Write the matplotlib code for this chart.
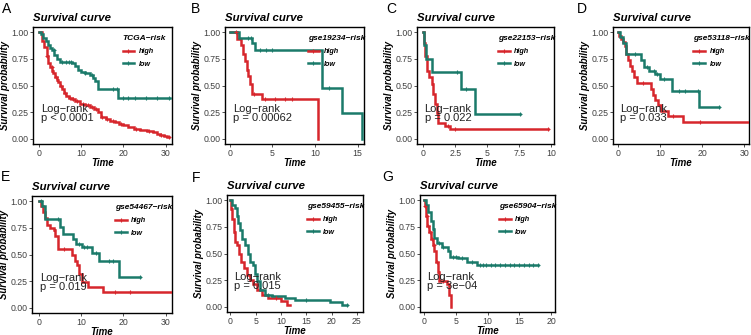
#!/usr/bin/env python3
# Kaplan-Meier survival curves for the risk model (TCGA + 6 GEO cohorts)

import matplotlib
matplotlib.use("Agg")
import matplotlib.pyplot as plt
from matplotlib.lines import Line2D
import numpy as np

plt.rcParams['font.family'] = ['Liberation Sans', 'DejaVu Sans']

RED = '#D7262C'
GREEN = '#1B7A6A'

# ---- data: step times, survival after each step, last follow-up, censor times ----
# A: TCGA
tcga_high_t = [0.8, 1.3, 1.8, 2.2, 2.7, 3.1, 3.4, 3.9, 4.3, 4.6, 5.0, 5.4, 6.0, 6.5, 7.0, 7.7, 8.5, 9.7,
               11.0, 12.0, 13.0, 14.0, 14.8, 15.8, 16.8, 18.0, 19.0, 20.0, 21.0, 22.5, 24.0, 25.5, 27.0,
               28.0, 28.6, 29.5, 30.2]
tcga_high_s = [0.92, 0.86, 0.78, 0.71, 0.67, 0.64, 0.62, 0.58, 0.55, 0.53, 0.50, 0.47, 0.43, 0.40, 0.385,
               0.37, 0.35, 0.33, 0.315, 0.30, 0.28, 0.25, 0.20, 0.185, 0.17, 0.155, 0.14, 0.125, 0.11,
               0.095, 0.08, 0.07, 0.06, 0.045, 0.035, 0.025, 0.015]
tcga_high_end = 30.8
tcga_high_cens = [2.0, 3.0, 4.0, 5.2, 6.2, 7.3, 8.0, 9.0, 10.5, 11.5, 12.5, 13.5, 15.0, 16.0, 17.5, 19.5,
                  23.0, 26.0, 29.0, 30.8]
tcga_low_t = [0.5, 1.0, 1.6, 2.2, 2.6, 3.0, 3.6, 4.2, 5.0, 7.7, 8.5, 9.3, 10.0, 11.0, 12.0, 12.8, 13.3,
              13.9, 18.8]
tcga_low_s = [0.98, 0.95, 0.92, 0.88, 0.85, 0.83, 0.79, 0.75, 0.72, 0.71, 0.68, 0.65, 0.63, 0.615, 0.60,
              0.57, 0.54, 0.47, 0.38]
tcga_low_end = 31.0
tcga_low_cens = [3.5, 5.5, 6.5, 7.0, 7.5, 11.0, 12.5, 17.6, 18.5, 20.0, 21.1, 22.7, 25.3, 27.9, 30.9]

# B: gse19234
g19234_high_t = [0.8, 1.3, 1.6, 1.8, 2.0, 2.2, 2.4, 2.6, 3.8, 10.3]
g19234_high_s = [0.94, 0.88, 0.80, 0.73, 0.65, 0.59, 0.51, 0.42, 0.37, 0.0]
g19234_high_end = 10.3
g19234_high_cens = [0.7, 2.9, 4.1, 5.3, 6.5, 7.3]
g19234_low_t = [1.1, 2.6, 3.0, 10.8, 13.2, 15.5]
g19234_low_s = [0.95, 0.90, 0.83, 0.48, 0.24, 0.0]
g19234_low_end = 15.5
g19234_low_cens = [2.2, 2.5, 3.6, 4.3, 4.9, 11.6]

# C: gse22153
g22153_high_t = [0.05, 0.12, 0.3, 0.47, 0.65, 0.78, 0.9, 1.04, 1.17, 1.7, 2.1]
g22153_high_s = [0.90, 0.78, 0.64, 0.58, 0.51, 0.42, 0.33, 0.24, 0.15, 0.12, 0.09]
g22153_high_end = 9.7
g22153_high_cens = [1.9, 2.5, 9.7]
g22153_low_t = [0.05, 0.2, 0.65, 2.9, 4.05]
g22153_low_s = [0.88, 0.75, 0.625, 0.47, 0.235]
g22153_low_end = 7.55
g22153_low_cens = [2.6, 3.3, 7.55]

# D: gse53118
g53118_high_t = [0.3, 0.7, 1.2, 1.7, 2.0, 2.4, 2.9, 3.3, 3.9, 4.5, 7.9, 8.4, 8.8, 9.6, 10.2, 12.0, 15.4]
g53118_high_s = [0.97, 0.94, 0.91, 0.87, 0.80, 0.74, 0.68, 0.64, 0.58, 0.52, 0.47, 0.41, 0.36, 0.32,
                 0.26, 0.21, 0.155]
g53118_high_end = 31.2
g53118_high_cens = [6.0, 13.0, 19.5]
g53118_low_t = [0.5, 1.3, 2.0, 5.5, 6.3, 7.5, 8.8, 10.0, 12.9, 19.2]
g53118_low_s = [0.96, 0.90, 0.80, 0.74, 0.67, 0.64, 0.61, 0.56, 0.45, 0.30]
g53118_low_end = 23.9
g53118_low_cens = [4.0, 7.0, 8.5, 9.3, 11.0, 14.5, 16.0, 19.0, 23.9]

# E: gse54467
g54467_high_t = [0.5, 1.1, 1.5, 1.9, 2.7, 3.5, 3.9, 4.6, 7.8, 8.6, 9.1, 9.6, 10.2, 11.7, 15.3]
g54467_high_s = [0.96, 0.90, 0.84, 0.78, 0.75, 0.73, 0.67, 0.55, 0.50, 0.44, 0.40, 0.32, 0.24, 0.19, 0.145]
g54467_high_end = 31.4
g54467_high_cens = [6.0, 18.0, 21.5]
g54467_low_t = [0.7, 1.5, 5.0, 5.8, 8.0, 8.8, 10.2, 12.5, 14.3, 19.0]
g54467_low_s = [0.96, 0.83, 0.76, 0.69, 0.65, 0.60, 0.57, 0.51, 0.44, 0.29]
g54467_low_end = 24.0
g54467_low_cens = [0.5, 4.5, 9.5, 10.8, 11.5, 13.5, 16.5, 17.5, 24.0]

# F: gse59455
g59455_high_t = [0.1, 0.4, 0.65, 0.9, 1.4, 1.8, 2.2, 2.8, 3.2, 3.9, 4.5, 5.2, 6.2, 7.5, 10.1, 11.1]
g59455_high_s = [0.92, 0.82, 0.70, 0.61, 0.58, 0.50, 0.42, 0.36, 0.30, 0.25, 0.21, 0.16, 0.11, 0.08,
                 0.05, 0.02]
g59455_high_end = 11.8
g59455_high_cens = [9.0]
g59455_low_t = [0.26, 0.9, 1.25, 1.6, 1.9, 2.4, 2.9, 3.4, 3.9, 4.5, 4.9, 5.2, 5.9, 6.8, 8.2, 10.8,
                12.8, 19.7, 22.0]
g59455_low_s = [0.96, 0.93, 0.85, 0.79, 0.72, 0.64, 0.58, 0.50, 0.42, 0.39, 0.31, 0.24, 0.16, 0.11,
                0.10, 0.08, 0.06, 0.04, 0.02]
g59455_low_end = 23.0
g59455_low_cens = [7.5, 15.0, 23.0]

# G: gse65904
g65904_high_t = [0.15, 0.3, 0.5, 0.85, 1.1, 1.35, 1.6, 1.9, 2.15, 2.4, 3.6, 4.0, 4.25]
g65904_high_s = [0.95, 0.85, 0.76, 0.70, 0.64, 0.58, 0.52, 0.42, 0.33, 0.24, 0.21, 0.11, 0.0]
g65904_high_end = 4.25
g65904_high_cens = [0.2, 0.4, 0.6, 0.9, 1.2, 1.5, 2.0, 3.0]
g65904_low_t = [0.3, 0.7, 1.05, 1.35, 1.6, 2.0, 2.8, 3.7, 4.1, 5.4, 6.7, 8.3]
g65904_low_s = [0.96, 0.89, 0.81, 0.73, 0.65, 0.60, 0.56, 0.52, 0.47, 0.46, 0.42, 0.39]
g65904_low_end = 18.0
g65904_low_cens = [2.3, 3.0, 4.5, 5.0, 6.0, 7.5, 8.8, 9.3, 9.8, 10.5, 11.2, 12.0, 12.8, 13.5, 14.2,
                   15.0, 15.8, 16.5, 17.2, 18.0]

# per panel: legend title, p-value text, x ticks
panel_letters = ['A', 'B', 'C', 'D', 'E', 'F', 'G']
legend_titles = ['TCGA\u2212risk', 'gse19234\u2212risk', 'gse22153\u2212risk', 'gse53118\u2212risk',
                 'gse54467\u2212risk', 'gse59455\u2212risk', 'gse65904\u2212risk']
pval_texts = ['p < 0.0001', 'p = 0.00062', 'p = 0.022', 'p = 0.033', 'p = 0.019', 'p = 0.015',
              'p = 3e\u221204']
xtick_values = [[0, 10, 20, 30], [0, 5, 10, 15], [0, 2.5, 5, 7.5, 10], [0, 10, 20, 30],
                [0, 10, 20, 30], [0, 5, 10, 15, 20, 25], [0, 5, 10, 15, 20]]
xtick_labels = [['0', '10', '20', '30'], ['0', '5', '10', '15'], ['0', '2.5', '5', '7.5', '10'],
                ['0', '10', '20', '30'], ['0', '10', '20', '30'], ['0', '5', '10', '15', '20', '25'],
                ['0', '5', '10', '15', '20']]

curves = [
    ((tcga_high_t, tcga_high_s, tcga_high_end, tcga_high_cens),
     (tcga_low_t, tcga_low_s, tcga_low_end, tcga_low_cens)),
    ((g19234_high_t, g19234_high_s, g19234_high_end, g19234_high_cens),
     (g19234_low_t, g19234_low_s, g19234_low_end, g19234_low_cens)),
    ((g22153_high_t, g22153_high_s, g22153_high_end, g22153_high_cens),
     (g22153_low_t, g22153_low_s, g22153_low_end, g22153_low_cens)),
    ((g53118_high_t, g53118_high_s, g53118_high_end, g53118_high_cens),
     (g53118_low_t, g53118_low_s, g53118_low_end, g53118_low_cens)),
    ((g54467_high_t, g54467_high_s, g54467_high_end, g54467_high_cens),
     (g54467_low_t, g54467_low_s, g54467_low_end, g54467_low_cens)),
    ((g59455_high_t, g59455_high_s, g59455_high_end, g59455_high_cens),
     (g59455_low_t, g59455_low_s, g59455_low_end, g59455_low_cens)),
    ((g65904_high_t, g65904_high_s, g65904_high_end, g65904_high_cens),
     (g65904_low_t, g65904_low_s, g65904_low_end, g65904_low_cens)),
]

# ---- layout (pixels, measured on the 751x335 reference) ----
W, H = 751, 335
boxes = [(33, 27, 172, 144), (225, 27, 364, 144), (417, 27, 554, 144), (613, 27, 749, 144),
         (32, 196, 172, 313), (227, 195, 363, 312), (420, 195, 555, 312)]
xlims = [(-1.42, 31.5), (-0.55, 15.74), (-0.5, 10.2), (-1.1, 31.1), (-1.6, 31.5), (-0.65, 26.2),
         (-0.63, 20.6)]
letter_pos = [(7, 9), (196, 9), (391, 9), (582, 9), (6, 177), (196, 178), (388, 177)]


def draw_km(ax, times, surv, end, cens, color):
    """Step curve plus '+' censor marks"""
    x = [0] + list(times) + [end]
    y = [1.0] + list(surv) + [surv[-1]]
    ax.step(x, y, where='post', color=color, lw=1.8, solid_joinstyle='miter', zorder=3)
    idx = np.searchsorted(times, cens, side='right')
    cy = [1.0 if i == 0 else surv[i - 1] for i in idx]
    ax.plot(cens, cy, ls='none', marker='+', ms=3.5, mew=0.8, color=color, zorder=4)


fig = plt.figure(figsize=(W / 100, H / 100), dpi=100)

for i, (x0, y0, x1, y1) in enumerate(boxes):
    ax = fig.add_axes([x0 / W, 1 - y1 / H, (x1 - x0) / W, (y1 - y0) / H])
    high, low = curves[i]
    draw_km(ax, *high, RED)
    draw_km(ax, *low, GREEN)

    ax.set_xlim(*xlims[i])
    ax.set_ylim(-0.05, 1.05)
    ax.set_xticks(xtick_values[i])
    ax.set_xticklabels(xtick_labels[i])
    ax.set_yticks([0, 0.25, 0.5, 0.75, 1.0])
    ax.set_yticklabels(['0.00', '0.25', '0.50', '0.75', '1.00'])
    ax.tick_params(direction='out', length=2.5, width=0.6, color='#333333',
                   labelsize=6.3, labelcolor='#404040', pad=1)
    for sp in ax.spines.values():
        sp.set_linewidth(1.0)
        sp.set_color('black')

    ax.set_title('Survival curve', loc='left', fontsize=8.2, fontweight='bold',
                 fontstyle='italic', pad=4)
    ax.set_xlabel('Time', fontsize=7, fontweight='bold', fontstyle='italic', labelpad=0)
    ax.set_ylabel('Survival probability', fontsize=6.9, fontweight='bold', fontstyle='italic',
                  labelpad=0.5)

    # log-rank annotation: x in axes coords, y in data coords
    ax.text(0.055, 0.235, 'Log\u2212rank\n' + pval_texts[i], transform=ax.get_yaxis_transform(),
            ha='left', va='center', fontsize=8, color='#222222', linespacing=0.95, zorder=5)

    handles = [Line2D([], [], color=RED, lw=1.8, marker='+', ms=3.5, mew=0.8),
               Line2D([], [], color=GREEN, lw=1.8, marker='+', ms=3.5, mew=0.8)]
    ax.legend(handles, ['high', 'low'], title=legend_titles[i], loc='center',
              bbox_to_anchor=(0.8, 0.79), frameon=False, alignment='left',
              prop=dict(weight='bold', style='italic', size=5.2),
              title_fontproperties=dict(weight='bold', style='italic', size=6),
              handlelength=1.6, labelspacing=0.8, borderpad=0, handletextpad=0.6)

    lx, ly = letter_pos[i]
    fig.text(lx / W, 1 - ly / H, panel_letters[i], fontsize=10, ha='center', va='center')

fig.savefig('out.png', dpi=100)
